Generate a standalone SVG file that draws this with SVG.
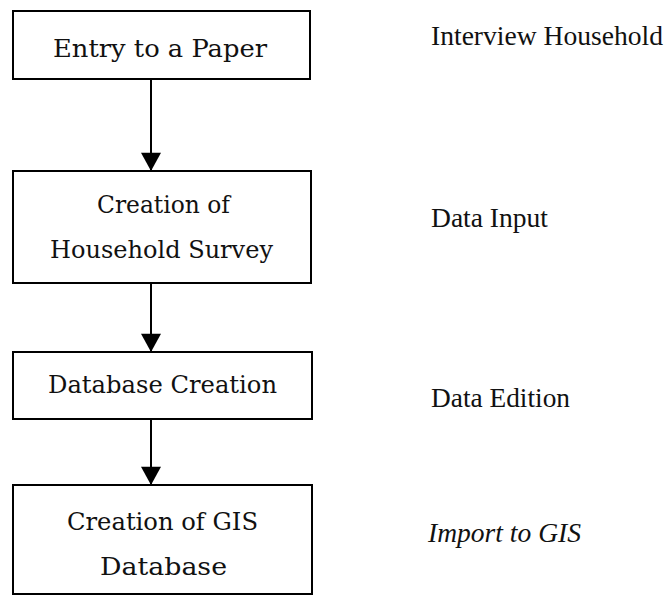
<svg xmlns="http://www.w3.org/2000/svg" width="668" height="596" viewBox="0 0 668 596">
  <defs>
    <marker id="arrow" markerWidth="22" markerHeight="20" refX="20" refY="11" orient="auto" markerUnits="userSpaceOnUse" viewBox="0 0 20 22">
      <path d="M0,0 L20,11 L0,22 Z" fill="#000"/>
    </marker>
    <style>
      .box { fill: #fff; stroke: #000; stroke-width: 2; }
      .label { font-family: "DejaVu Serif", "Liberation Serif", serif; font-size: 24px; fill: #111; }
      .step { font-family: "Liberation Serif", "Times New Roman", serif; font-size: 27px; fill: #111; }
      .link { stroke: #000; stroke-width: 2; fill: none; }
    </style>
  </defs>
  <rect width="668" height="596" fill="#fff"/>

  <g id="node-entry">
    <rect class="box" x="13" y="11" width="297" height="68"/>
    <text class="label" x="53" y="57" textLength="214" lengthAdjust="spacingAndGlyphs">Entry to a Paper</text>
  </g>

  <g id="node-survey">
    <rect class="box" x="13" y="171" width="298" height="112"/>
    <text class="label" x="97" y="213" textLength="133" lengthAdjust="spacingAndGlyphs">Creation of</text>
    <text class="label" x="50" y="258" textLength="223" lengthAdjust="spacingAndGlyphs">Household Survey</text>
  </g>

  <g id="node-database">
    <rect class="box" x="13" y="352" width="299" height="67"/>
    <text class="label" x="48" y="393" textLength="229" lengthAdjust="spacingAndGlyphs">Database Creation</text>
  </g>

  <g id="node-gis">
    <rect class="box" x="13" y="485" width="299" height="109"/>
    <text class="label" x="67" y="530" textLength="191" lengthAdjust="spacingAndGlyphs">Creation of GIS</text>
    <text class="label" x="100" y="575" textLength="127" lengthAdjust="spacingAndGlyphs">Database</text>
  </g>

  <g id="connectors">
    <line class="link" x1="151" y1="79" x2="151" y2="171" marker-end="url(#arrow)"/>
    <line class="link" x1="151" y1="283" x2="151" y2="352" marker-end="url(#arrow)"/>
    <line class="link" x1="151" y1="419" x2="151" y2="485" marker-end="url(#arrow)"/>
  </g>

  <g id="steps">
    <text class="step" x="431" y="45" textLength="232" lengthAdjust="spacingAndGlyphs">Interview Household</text>
    <text class="step" x="431" y="227" textLength="117" lengthAdjust="spacingAndGlyphs">Data Input</text>
    <text class="step" x="431" y="407" textLength="139" lengthAdjust="spacingAndGlyphs">Data Edition</text>
    <text class="step" x="428" y="542" font-style="italic" textLength="153" lengthAdjust="spacingAndGlyphs">Import to GIS</text>
  </g>
</svg>
